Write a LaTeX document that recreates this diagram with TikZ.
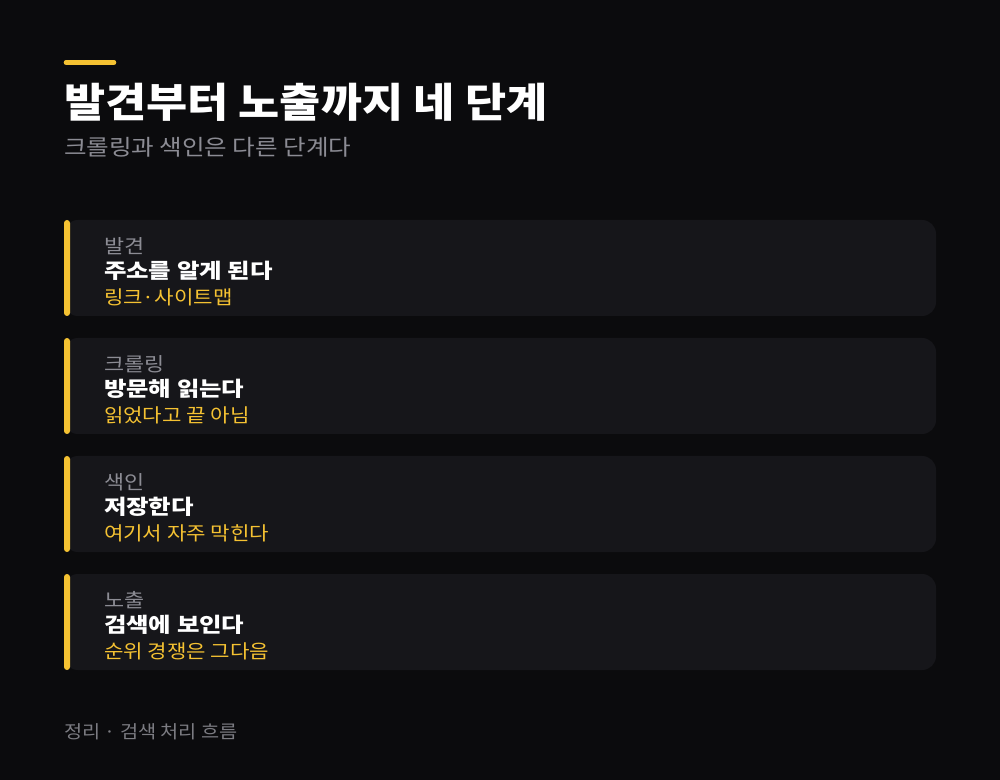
\documentclass[tikz,border=0pt]{standalone}
\usepackage{fontspec}
\setmainfont{Noto Sans CJK KR}
\usepackage{tikz}
\usetikzlibrary{positioning}

\definecolor{pagebg}{HTML}{0B0B0D}
\definecolor{cardbg}{HTML}{16161A}
\definecolor{accent}{HTML}{F5C232}
\definecolor{mutedtxt}{HTML}{8C8C94}
\definecolor{foottxt}{HTML}{7C7C82}

\newcommand\widened[1]{\addfontfeatures{FakeStretch=#1}}

\begin{document}
\begin{tikzpicture}[x=0.75pt,y=-0.75pt,inner sep=0pt,outer sep=0pt]
  \tikzstyle{card}=[fill=cardbg,draw=none,rounded corners=10.5pt,
                    minimum width=654pt,minimum height=72pt]
  \tikzstyle{bar}=[fill=accent,draw=none,rounded corners=2.25pt,
                   minimum width=4.5pt,minimum height=72pt,anchor=west]
  \tikzstyle{lbl}=[anchor=west,text=mutedtxt,
                   font=\fontsize{14.5}{17}\selectfont\widened{1.13}]
  \tikzstyle{head}=[anchor=west,text=white,
                    font=\fontsize{15.4}{18}\selectfont\bfseries\widened{1.19}]
  \tikzstyle{note}=[anchor=west,text=accent,
                    font=\fontsize{14.3}{17}\selectfont\widened{1.11}]

  \fill[pagebg] (0,0) rectangle (1000,780);
  \useasboundingbox (0,0) rectangle (1000,780);

  % header
  \coordinate (rule a) at (66,62.5);
  \coordinate (rule b) at (114,62.5);
  \draw[accent,line width=3.4pt,line cap=round] (rule a) -- (rule b);
  \node[anchor=west,text=white,
        font=\fontsize{30.5}{36}\selectfont\bfseries\widened{1.10}]
       (title) at (64,102) {발견부터 노출까지 네 단계};
  \node[anchor=west,text=mutedtxt,
        font=\fontsize{16.5}{20}\selectfont\widened{1.115}]
       (subtitle) at (64,147) {크롤링과 색인은 다른 단계다};

  % stages
  \node[card] (c1) at (500,268) {};
  \node[bar]  (b1) at (c1.west) {};
  \node[lbl]  (l1) at (104,246) {발견};
  \node[head] (h1) at (104,271) {주소를 알게 된다};
  \node[note] (n1) at (104,297) {링크·사이트맵};

  \node[card] (c2) at (500,386) {};
  \node[bar]  (b2) at (c2.west) {};
  \node[lbl]  (l2) at (104,364) {크롤링};
  \node[head] (h2) at (104,389) {방문해 읽는다};
  \node[note] (n2) at (104,415) {읽었다고 끝 아님};

  \node[card] (c3) at (500,504) {};
  \node[bar]  (b3) at (c3.west) {};
  \node[lbl]  (l3) at (104,482) {색인};
  \node[head] (h3) at (104,507) {저장한다};
  \node[note] (n3) at (104,533) {여기서 자주 막힌다};

  \node[card] (c4) at (500,622) {};
  \node[bar]  (b4) at (c4.west) {};
  \node[lbl]  (l4) at (104,600) {노출};
  \node[head] (h4) at (104,625) {검색에 보인다};
  \node[note] (n4) at (104,651) {순위 경쟁은 그다음};

  % footer
  \node[anchor=west,text=foottxt,
        font=\fontsize{13.5}{16}\selectfont\widened{1.095}]
       (footer) at (64,732) {정리 · 검색 처리 흐름};
\end{tikzpicture}
\end{document}
